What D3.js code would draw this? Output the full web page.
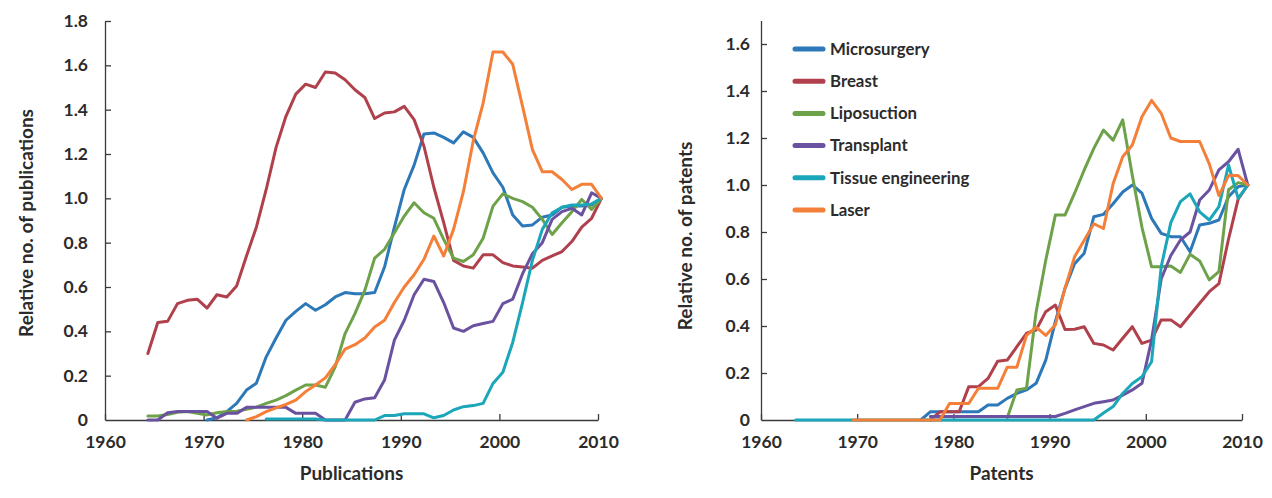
<!DOCTYPE html>
<html>
<head>
<meta charset="utf-8">
<script src="https://cdn.jsdelivr.net/npm/d3@7"></script>
<style>
  body { margin: 0; background: #fff; }
  svg text { font-family: Lato, "Open Sans", sans-serif; font-weight: 700; fill: #2b2b2b; }
  .axis path, .axis line { stroke: #3a3a3a; stroke-width: 1.3; }
  .series { fill: none; stroke-width: 3; stroke-linejoin: round; stroke-linecap: round; }
</style>
</head>
<body>
<svg width="1272" height="498"></svg>
<script>
// series names + colours (legend order, also draw order)
const seriesNames = ["Microsurgery", "Breast", "Liposuction", "Transplant", "Tissue engineering", "Laser"];
const seriesColors = ["#2c78b8", "#b0414c", "#6ea24a", "#6b52a0", "#1ba6b9", "#f47f38"];

const xTicks = [1960, 1970, 1980, 1990, 2000, 2010];
const pubYTicks = [0, 0.2, 0.4, 0.6, 0.8, 1.0, 1.2, 1.4, 1.6, 1.8];
const patYTicks = [0, 0.2, 0.4, 0.6, 0.8, 1.0, 1.2, 1.4, 1.6];

// ---- Publications (left panel), first year of each series in pubStart
const pubStart = [1970, 1964, 1964, 1964, 1976, 1974];
const pubMicrosurgery = [0.0, 0.01, 0.038, 0.075, 0.135, 0.166, 0.285, 0.37, 0.45, 0.49, 0.525, 0.495, 0.52, 0.555, 0.575, 0.57, 0.57, 0.575, 0.69, 0.87, 1.04, 1.15, 1.29, 1.295, 1.275, 1.25, 1.30, 1.275, 1.205, 1.115, 1.05, 0.925, 0.875, 0.88, 0.915, 0.925, 0.96, 0.965, 0.965, 0.97, 1.0];
const pubBreast = [0.30, 0.44, 0.445, 0.525, 0.54, 0.545, 0.505, 0.565, 0.555, 0.605, 0.74, 0.87, 1.04, 1.23, 1.37, 1.47, 1.515, 1.50, 1.57, 1.565, 1.535, 1.49, 1.455, 1.36, 1.385, 1.39, 1.415, 1.355, 1.235, 1.05, 0.89, 0.72, 0.695, 0.685, 0.745, 0.745, 0.71, 0.695, 0.69, 0.685, 0.72, 0.74, 0.76, 0.805, 0.87, 0.91, 1.0];
const pubLiposuction = [0.018, 0.018, 0.025, 0.035, 0.038, 0.03, 0.023, 0.033, 0.038, 0.04, 0.048, 0.058, 0.075, 0.09, 0.11, 0.135, 0.158, 0.158, 0.148, 0.24, 0.39, 0.48, 0.585, 0.73, 0.77, 0.845, 0.92, 0.98, 0.935, 0.91, 0.815, 0.73, 0.715, 0.745, 0.82, 0.965, 1.02, 1.0, 0.985, 0.96, 0.905, 0.837, 0.89, 0.94, 0.995, 0.95, 1.0];
const pubTransplant = [0, 0, 0.033, 0.038, 0.038, 0.038, 0.038, 0.008, 0.03, 0.03, 0.057, 0.057, 0.057, 0.057, 0.057, 0.03, 0.03, 0.03, 0, 0, 0, 0.08, 0.095, 0.10, 0.18, 0.36, 0.45, 0.565, 0.635, 0.625, 0.53, 0.415, 0.40, 0.425, 0.435, 0.445, 0.525, 0.545, 0.66, 0.75, 0.80, 0.905, 0.94, 0.955, 0.925, 1.025, 1.0];
const pubTissue = [0.005, 0.005, 0.005, 0.005, 0.005, 0.005, 0, 0, 0, 0, 0, 0, 0.02, 0.02, 0.028, 0.028, 0.028, 0.01, 0.02, 0.045, 0.06, 0.065, 0.075, 0.165, 0.215, 0.35, 0.53, 0.72, 0.86, 0.935, 0.96, 0.97, 0.97, 0.975, 1.0];
const pubLaser = [0, 0.015, 0.038, 0.055, 0.07, 0.09, 0.128, 0.158, 0.19, 0.25, 0.32, 0.34, 0.37, 0.42, 0.45, 0.53, 0.60, 0.655, 0.725, 0.83, 0.74, 0.86, 1.03, 1.26, 1.43, 1.66, 1.66, 1.605, 1.415, 1.22, 1.12, 1.12, 1.085, 1.04, 1.063, 1.063, 1.0];

// ---- Patents (right panel)
const patStart = [1976, 1977, 1985, 1977, 1963, 1969];
const patMicrosurgery = [0, 0.035, 0.035, 0.035, 0.035, 0.035, 0.035, 0.064, 0.064, 0.092, 0.113, 0.128, 0.156, 0.255, 0.42, 0.56, 0.665, 0.71, 0.865, 0.875, 0.92, 0.97, 1.0, 0.965, 0.858, 0.794, 0.78, 0.78, 0.716, 0.83, 0.837, 0.851, 0.95, 0.993, 1.0];
const patBreast = [0, 0.035, 0.035, 0.035, 0.142, 0.142, 0.177, 0.25, 0.255, 0.312, 0.369, 0.383, 0.461, 0.489, 0.385, 0.386, 0.397, 0.326, 0.319, 0.298, 0.348, 0.397, 0.326, 0.34, 0.426, 0.426, 0.397, 0.447, 0.497, 0.546, 0.58, 0.77, 0.94, 1.0];
const patLiposuction = [0.01, 0.128, 0.135, 0.46, 0.68, 0.872, 0.872, 0.965, 1.064, 1.156, 1.234, 1.191, 1.277, 1.04, 0.82, 0.652, 0.652, 0.655, 0.628, 0.705, 0.677, 0.596, 0.631, 0.98, 1.01, 1.0];
const patTransplant = [0.015, 0.015, 0.015, 0.015, 0.015, 0.015, 0.015, 0.015, 0.015, 0.015, 0.015, 0.015, 0.015, 0.015, 0.028, 0.043, 0.057, 0.071, 0.078, 0.085, 0.106, 0.128, 0.156, 0.34, 0.6, 0.70, 0.766, 0.80, 0.936, 0.979, 1.064, 1.099, 1.152, 1.0];
const patTissue = [0, 0, 0, 0, 0, 0, 0, 0, 0, 0, 0, 0, 0, 0, 0, 0, 0, 0, 0, 0, 0, 0, 0, 0, 0, 0, 0, 0, 0, 0, 0, 0, 0.03, 0.057, 0.113, 0.155, 0.184, 0.248, 0.652, 0.84, 0.929, 0.962, 0.886, 0.851, 0.908, 1.085, 0.943, 1.0];
const patLaser = [0, 0, 0, 0, 0, 0, 0, 0, 0, 0, 0.07, 0.07, 0.07, 0.135, 0.135, 0.135, 0.225, 0.225, 0.36, 0.395, 0.36, 0.405, 0.56, 0.695, 0.765, 0.835, 0.815, 1.005, 1.12, 1.17, 1.29, 1.36, 1.305, 1.2, 1.185, 1.185, 1.185, 1.09, 0.955, 1.04, 1.04, 1.0];

const svg = d3.select("svg");

function toPoints(values, start) {
    return values.map((v, i) => ({year: start + i, value: v}));
}

function drawPanel(opts) {
    let g = svg.append("g");
    let x = d3.scaleLinear().domain([1960, 2010]).range(opts.xRange);
    let y = d3.scaleLinear().domain(opts.yDomain).range(opts.yRange);

    // x axis, ticks pointing inward
    let xAxis = g.append("g")
        .attr("class", "axis")
        .attr("transform", "translate(0," + opts.yRange[0] + ")")
        .call(d3.axisBottom(x).tickValues(xTicks).tickFormat(d3.format("d"))
            .tickSize(-6).tickSizeOuter(0).tickPadding(16));
    xAxis.selectAll("text").style("font-size", "17.5px");

    let yAxis = g.append("g")
        .attr("class", "axis")
        .attr("transform", "translate(" + opts.xRange[0] + ",0)")
        .call(d3.axisLeft(y).tickValues(opts.yTicks)
            .tickFormat(d => d === 0 ? "0" : d3.format(".1f")(d))
            .tickSize(-6).tickSizeOuter(0).tickPadding(opts.yPad));
    yAxis.selectAll("text").style("font-size", "17.5px");
    yAxis.select(".tick line").remove();

    // titles
    g.append("text")
        .attr("x", (opts.xRange[0] + opts.xRange[1]) / 2)
        .attr("y", 480)
        .attr("text-anchor", "middle")
        .style("font-size", "19px")
        .text(opts.xTitle);
    g.append("text")
        .attr("transform", "translate(" + opts.yTitleX + "," + opts.yTitleY + ") rotate(-90)")
        .attr("text-anchor", "middle")
        .style("font-size", "19px")
        .text(opts.yTitle);

    let line = d3.line()
        .x(d => x(d.year + opts.shift))
        .y(d => y(d.value));

    opts.series.forEach((vals, i) => {
        g.append("path")
            .datum(toPoints(vals, opts.starts[i]))
            .attr("class", "series")
            .attr("stroke", seriesColors[i])
            .attr("d", line);
    });
}

drawPanel({
    xRange: [105, 598], yRange: [420, 21], yDomain: [0, 1.8], yTicks: pubYTicks, yPad: 17,
    xTitle: "Publications", yTitle: "Relative no. of publications", yTitleX: 33, yTitleY: 223,
    shift: 0.35, starts: pubStart,
    series: [pubMicrosurgery, pubBreast, pubLiposuction, pubTransplant, pubTissue, pubLaser]
});

drawPanel({
    xRange: [761, 1242], yRange: [420, 20.5], yDomain: [0, 1.7], yTicks: patYTicks, yPad: 11,
    xTitle: "Patents", yTitle: "Relative no. of patents", yTitleX: 692, yTitleY: 236,
    shift: 0.6, starts: patStart,
    series: [patMicrosurgery, patBreast, patLiposuction, patTransplant, patTissue, patLaser]
});

// legend
let legend = svg.append("g").selectAll("g")
    .data(seriesNames)
    .enter().append("g")
    .attr("transform", (d, i) => "translate(795," + (49 + i * 32.2) + ")");
legend.append("line")
    .attr("x1", 0).attr("x2", 28)
    .attr("stroke", (d, i) => seriesColors[i])
    .attr("stroke-width", 5)
    .attr("stroke-linecap", "round");
legend.append("text")
    .attr("x", 35)
    .attr("dy", "0.35em")
    .style("font-size", "16.8px")
    .text(d => d);
</script>
</body>
</html>
